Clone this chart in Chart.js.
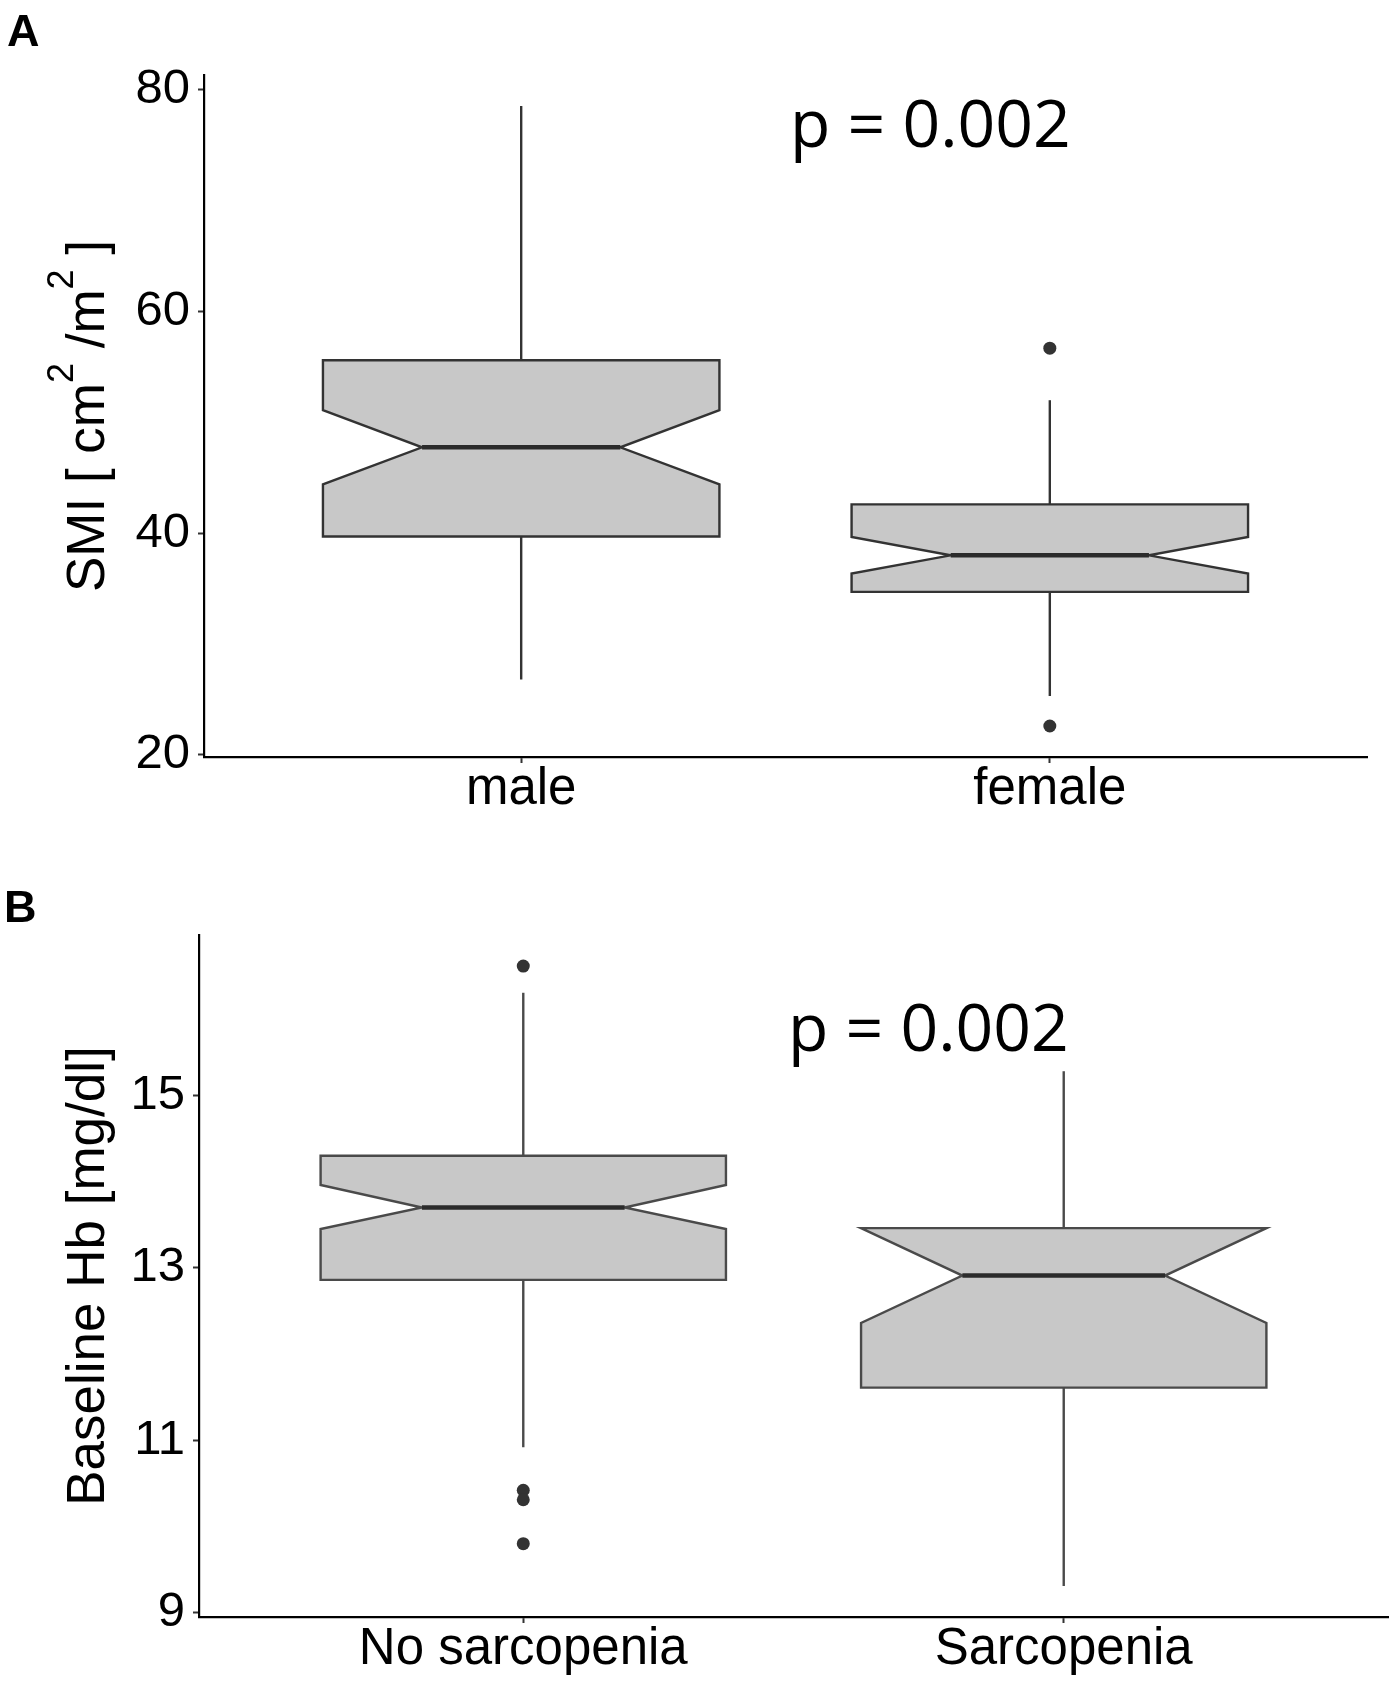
<!DOCTYPE html>
<html>
<head>
  <title>SMI and baseline Hb notched boxplots</title>
  <script src="https://cdn.jsdelivr.net/npm/chart.js"></script>
  <style>
    body { margin: 0; background: #fff; }
    canvas { display: block; }
  </style>
</head>
<body>
  <canvas id="chartA" width="1395" height="840"></canvas>
  <canvas id="chartB" width="1395" height="845"></canvas>
  <script>
    // A: SMI by sex
    const smiGroups = ['male', 'female'];
    const smiWhiskerLow = [26.8, 25.3];
    const smiQ1 = [39.7, 34.7];
    const smiNotchLow = [44.4, 36.35];
    const smiMedian = [47.75, 38.0];
    const smiNotchHigh = [51.1, 39.65];
    const smiQ3 = [55.6, 42.6];
    const smiWhiskerHigh = [78.55, 52.0];
    const smiOutliers = [[], [56.7, 22.6]];
    const smiTicks = [20, 40, 60, 80];

    // B: baseline Hb by sarcopenia
    const hbGroups = ['No sarcopenia', 'Sarcopenia'];
    const hbWhiskerLow = [10.92, 9.31];
    const hbQ1 = [12.86, 11.61];
    const hbNotchLow = [13.45, 12.36];
    const hbMedian = [13.70, 12.91];
    const hbNotchHigh = [13.96, 13.46];
    const hbQ3 = [14.30, 13.46];
    const hbWhiskerHigh = [16.19, 15.28];
    const hbOutliers = [[16.50, 10.42, 10.31, 9.80], []];
    const hbTicks = [9, 11, 13, 15];

    const FONT = '"Liberation Sans", Arial, sans-serif';

    // notched box polygons, drawn through the chart's own scales
    function notchPlugin(p) {
      return {
        id: 'notchBox',
        beforeDatasetsDraw(chart) {
          const { ctx, scales: { x, y } } = chart;
          const half = 0.75 / 2;
          const indent = half * 0.5;
          ctx.save();
          p.groups.forEach((g, i) => {
            const c = i + 1;
            const L = x.getPixelForValue(c - half), R = x.getPixelForValue(c + half);
            const Li = x.getPixelForValue(c - half + indent), Ri = x.getPixelForValue(c + half - indent);
            const yq3 = y.getPixelForValue(p.q3[i]), yq1 = y.getPixelForValue(p.q1[i]);
            const yhi = y.getPixelForValue(p.notchHigh[i]), ylo = y.getPixelForValue(p.notchLow[i]);
            const ym = y.getPixelForValue(p.median[i]);
            ctx.beginPath();
            ctx.moveTo(L, yq3);
            ctx.lineTo(L, yhi);
            ctx.lineTo(Li, ym);
            ctx.lineTo(L, ylo);
            ctx.lineTo(L, yq1);
            ctx.lineTo(R, yq1);
            ctx.lineTo(R, ylo);
            ctx.lineTo(Ri, ym);
            ctx.lineTo(R, yhi);
            ctx.lineTo(R, yq3);
            ctx.closePath();
            ctx.fillStyle = '#c8c8c8';
            ctx.fill();
            ctx.lineWidth = 2.4;
            ctx.lineJoin = 'miter';
            ctx.strokeStyle = p.lineColor;
            ctx.stroke();
            ctx.beginPath();
            ctx.moveTo(Li, ym);
            ctx.lineTo(Ri, ym);
            ctx.lineWidth = 4.5;
            ctx.strokeStyle = '#2b2b2b';
            ctx.stroke();
          });
          ctx.restore();
        },
        afterDraw(chart) {
          const ctx = chart.ctx;
          ctx.save();
          ctx.fillStyle = '#000';
          ctx.textBaseline = 'alphabetic';
          ctx.textAlign = 'left';
          ctx.font = 'bold 45px ' + FONT;
          ctx.fillText(p.letter, p.letterX, p.letterY);
          ctx.font = '500 66px "Open Sans", sans-serif';
          ctx.fillText(p.pText, p.pX, p.pY);

          // y title with real superscripts (plotmath style)
          if (p.titleParts) {
            const area = chart.chartArea;
            const mainFont = '53px ' + FONT, supFont = '36px ' + FONT;
            let w = 0;
            p.titleParts.forEach(([t, sup]) => {
              ctx.font = sup ? supFont : mainFont;
              w += ctx.measureText(t).width;
            });
            ctx.translate(p.titleBaseX, (area.top + area.bottom) / 2);
            ctx.rotate(-Math.PI / 2);
            let pos = -w / 2;
            p.titleParts.forEach(([t, sup]) => {
              ctx.font = sup ? supFont : mainFont;
              ctx.fillText(t, pos, sup ? -31 : 0);
              pos += ctx.measureText(t).width;
            });
          }
          ctx.restore();
        }
      };
    }

    function drawPanel(id, p) {
      const datasets = [];
      p.groups.forEach((g, i) => {
        const c = i + 1;
        [[p.q3[i], p.whiskerHigh[i]], [p.q1[i], p.whiskerLow[i]]].forEach(pair => {
          datasets.push({
            type: 'line',
            data: pair.map(v => ({ x: c, y: v })),
            borderColor: p.lineColor,
            borderWidth: 2.4,
            pointRadius: 0,
            fill: false
          });
        });
      });
      const pts = [];
      p.outliers.forEach((list, i) => list.forEach(v => pts.push({ x: i + 1, y: v })));
      datasets.push({
        type: 'scatter',
        data: pts,
        pointRadius: 6.5,
        pointBackgroundColor: '#333',
        pointBorderWidth: 0
      });

      new Chart(document.getElementById(id), {
        type: 'scatter',
        data: { datasets },
        plugins: [notchPlugin(p)],
        options: {
          responsive: false,
          animation: false,
          events: [],
          layout: { padding: p.padding },
          plugins: { legend: { display: false }, tooltip: { enabled: false } },
          scales: {
            x: {
              type: 'linear',
              min: 0.4,
              max: 2.6,
              afterBuildTicks: s => { s.ticks = p.groups.map((g, i) => ({ value: i + 1 })); },
              afterFit: s => { s.height = p.xHeight; },
              ticks: {
                callback: v => p.groups[Math.round(v) - 1],
                font: { family: FONT, size: 51, lineHeight: 1 },
                color: '#000',
                padding: 1,
                maxRotation: 0,
                autoSkip: false
              },
              grid: { drawOnChartArea: false, drawTicks: true, tickLength: 6, tickWidth: 2, tickColor: '#333' },
              border: { display: true, color: '#000', width: 2.2 }
            },
            y: {
              type: 'linear',
              min: p.yMin,
              max: p.yMax,
              afterBuildTicks: s => { s.ticks = p.ticks.map(v => ({ value: v })); },
              afterFit: s => { s.width = p.yWidth; },
              ticks: {
                font: { family: FONT, size: 49 },
                color: '#000',
                padding: 8
              },
              title: {
                display: !p.titleParts,
                text: p.title,
                font: { family: FONT, size: 53 },
                color: '#000',
                padding: { top: p.titlePad, bottom: 0 }
              },
              grid: { drawOnChartArea: false, drawTicks: true, tickLength: 6, tickWidth: 2, tickColor: '#333' },
              border: { display: true, color: '#000', width: 2.2 }
            }
          }
        }
      });
    }

    drawPanel('chartA', {
      groups: smiGroups, whiskerLow: smiWhiskerLow, q1: smiQ1, notchLow: smiNotchLow,
      median: smiMedian, notchHigh: smiNotchHigh, q3: smiQ3, whiskerHigh: smiWhiskerHigh,
      outliers: smiOutliers, ticks: smiTicks,
      yMin: 19.8, yMax: 81.35,
      title: 'SMI [ cm\u00B2 /m\u00B2 ]',
      titleParts: [['SMI [ cm', false], ['2', true], [' /m', false], ['2', true], [' ]', false]],
      titleBaseX: 104,
      letter: 'A', letterX: 7, letterY: 46,
      pText: 'p = 0.002', pX: 790, pY: 147,
      padding: { top: 75, right: 28, left: 0, bottom: 0 },
      yWidth: 204, xHeight: 83, titlePad: 53,
      lineColor: '#333'
    });

    drawPanel('chartB', {
      groups: hbGroups, whiskerLow: hbWhiskerLow, q1: hbQ1, notchLow: hbNotchLow,
      median: hbMedian, notchHigh: hbNotchHigh, q3: hbQ3, whiskerHigh: hbWhiskerHigh,
      outliers: hbOutliers, ticks: hbTicks,
      yMin: 8.95, yMax: 16.86,
      title: 'Baseline Hb [mg/dl]',
      letter: 'B', letterX: 4, letterY: 82,
      pText: 'p = 0.002', pX: 788, pY: 211,
      padding: { top: 95, right: 7, left: 0, bottom: 0 },
      yWidth: 199, xHeight: 68, titlePad: 58,
      lineColor: '#4a4a4a'
    });
  </script>
</body>
</html>
